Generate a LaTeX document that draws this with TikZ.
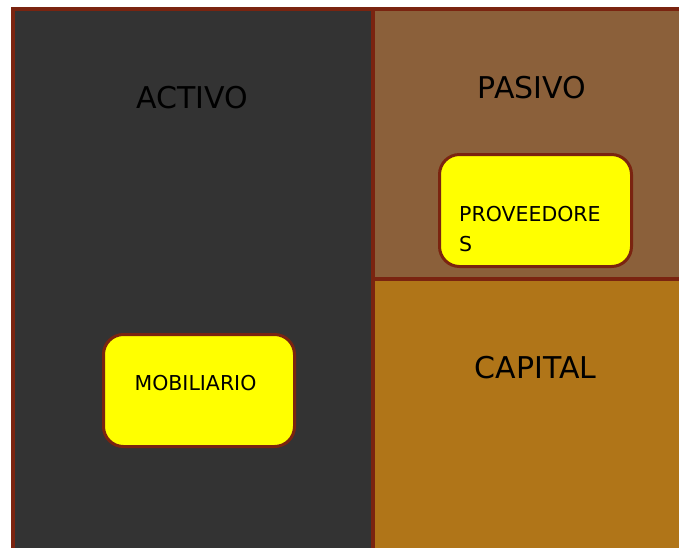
\documentclass[tikz,border=0pt]{standalone}
\usepackage{fontspec}
\setmainfont{DejaVu Sans}
\definecolor{bordercol}{RGB}{122,36,16}
\definecolor{darkpanel}{RGB}{51,51,51}
\definecolor{pasivocol}{RGB}{139,96,58}
\definecolor{capitalcol}{RGB}{176,117,24}
\definecolor{boxyellow}{RGB}{255,255,0}
\tikzset{
  panel/.style={draw=bordercol, line width=4pt, rectangle, inner sep=0pt, outer sep=0pt, anchor=north west},
  itembox/.style={draw=bordercol, line width=3pt, fill=boxyellow, rectangle, rounded corners=20pt, inner sep=0pt, outer sep=0pt, anchor=north west},
  biglabel/.style={font=\fontsize{30}{36}\selectfont, text=black, inner sep=0pt, anchor=base},
  smalllabel/.style={font=\fontsize{20.5}{30}\selectfont, text=black, inner sep=0pt}
}
\begin{document}
\begin{tikzpicture}[x=1pt,y=-1pt]
\useasboundingbox (0,0) rectangle (679,547);
\fill[white] (0,0) rectangle (679,547);
\begin{scope}
\clip (0,0) rectangle (679,547);
\node (activo) [panel, fill=darkpanel, minimum width=360pt, minimum height=560pt] at (13,9) {};
\node (pasivo) [panel, fill=pasivocol, minimum width=330pt, minimum height=270pt] at (373,9) {};
\node (capital) [panel, fill=capitalcol, minimum width=330pt, minimum height=290pt] at (373,279) {};
\end{scope}
\node (activolbl) [biglabel] at (192.5,108.3) {ACTIVO};
\node (pasivolbl) [biglabel] at (532,98) {PASIVO};
\node (capitallbl) [biglabel] at (535.5,378) {CAPITAL};
\node (prov) [itembox, minimum width=192pt, minimum height=112pt] at (439.5,154.5) {};
\node (provlbl) [smalllabel, anchor=west, align=left] at (459,229) {PROVEEDORE\\S};
\node (mob) [itembox, minimum width=191pt, minimum height=112pt] at (103.5,334.5) {};
\node (moblbl) [smalllabel, anchor=base] at (195.5,390.5) {MOBILIARIO};
\end{tikzpicture}
\end{document}
